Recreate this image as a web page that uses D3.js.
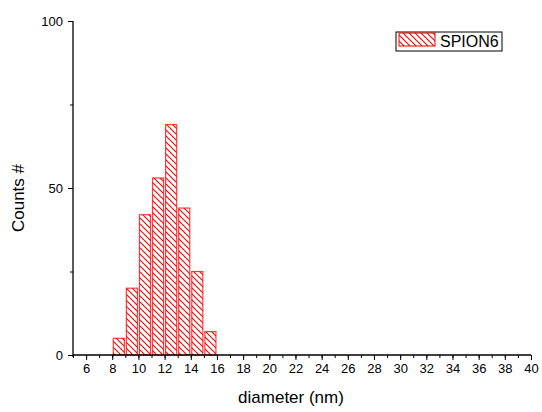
<!DOCTYPE html>
<html>
<head>
<meta charset="utf-8">
<script src="https://cdn.jsdelivr.net/npm/d3@7"></script>
<style>
  body { margin: 0; background: #fff; }
  svg { display: block; font-family: "Liberation Sans", Arial, sans-serif; }
</style>
</head>
<body>
<script>
// histogram bins (nm) and counts
var binStart = [8, 9, 10, 11, 12, 13, 14, 15];
var binEnd   = [9, 10, 11, 12, 13, 14, 15, 16];
var counts   = [5, 20, 42, 53, 69, 44, 25, 7];
var seriesName = "SPION6";
var xTicks = [6, 8, 10, 12, 14, 16, 18, 20, 22, 24, 26, 28, 30, 32, 34, 36, 38, 40];
var yTicks = [0, 50, 100];

var w = 542, h = 412;
var red = "#ff0000";

var svg = d3.select("body").append("svg")
    .attr("width", w)
    .attr("height", h);

// hatch pattern
var defs = svg.append("defs");
var pat = defs.append("pattern")
    .attr("id", "hatch")
    .attr("patternUnits", "userSpaceOnUse")
    .attr("width", 6)
    .attr("height", 6);
pat.append("rect").attr("width", 6).attr("height", 6).attr("fill", "#fff");
pat.append("path")
    .attr("d", "M0,0L6,6M-1,5L1,7M5,-1L7,1")
    .attr("stroke", red)
    .attr("stroke-width", 1.1);

var xScale = d3.scaleLinear().domain([5, 40]).range([73, 531]);
var yScale = d3.scaleLinear().domain([0, 100]).range([355, 21]);

// bars
var data = binStart.map(function(d, i) { return {x0: d, x1: binEnd[i], c: counts[i]}; });
svg.selectAll("rect.bar")
  .data(data)
  .enter()
  .append("rect")
  .attr("class", "bar")
  .attr("x", function(d) { return xScale(d.x0) + 1; })
  .attr("y", function(d) { return yScale(d.c); })
  .attr("width", function(d) { return xScale(d.x1) - xScale(d.x0) - 2; })
  .attr("height", function(d) { return yScale(0) - yScale(d.c); })
  .attr("fill", "url(#hatch)")
  .attr("stroke", red)
  .attr("stroke-opacity", 0.75)
  .attr("stroke-width", 1.2);

// x axis: major ticks labelled, minor every 1
var gX = svg.append("g").attr("transform", "translate(0," + yScale(0) + ")");
gX.call(d3.axisBottom(xScale).tickValues(d3.range(5, 41, 1)).tickSize(3).tickFormat(""))
  .call(function(g) { g.select(".domain").remove(); });
gX.append("g")
  .call(d3.axisBottom(xScale).tickValues(xTicks).tickSize(5).tickPadding(4).tickFormat(d3.format("d")))
  .call(function(g) { g.select(".domain").remove(); });
gX.append("line")
  .attr("x1", xScale(5)).attr("x2", xScale(40))
  .attr("stroke", "#000").attr("stroke-width", 1.3);
gX.selectAll("text").attr("font-size", 13).attr("fill", "#000").attr("font-family", "Liberation Sans, Arial, sans-serif");
gX.selectAll(".tick line").attr("stroke", "#000");

// y axis
var gY = svg.append("g").attr("transform", "translate(" + xScale(5) + ",0)");
gY.call(d3.axisLeft(yScale).tickValues([25, 75]).tickSize(3).tickFormat(""))
  .call(function(g) { g.select(".domain").remove(); });
gY.append("g")
  .call(d3.axisLeft(yScale).tickValues(yTicks).tickSize(5).tickPadding(5).tickFormat(d3.format("d")))
  .call(function(g) { g.select(".domain").remove(); });
gY.append("line")
  .attr("y1", yScale(100)).attr("y2", yScale(0) + 2)
  .attr("stroke", "#000").attr("stroke-width", 1.3);
gY.selectAll("text").attr("font-size", 13).attr("fill", "#000").attr("font-family", "Liberation Sans, Arial, sans-serif");
gY.selectAll(".tick line").attr("stroke", "#000");

// axis titles
svg.append("text")
  .attr("x", 291).attr("y", 403)
  .attr("text-anchor", "middle")
  .attr("font-size", 17)
  .text("diameter (nm)");

svg.append("text")
  .attr("transform", "translate(24,198) rotate(-90)")
  .attr("text-anchor", "middle")
  .attr("font-size", 17)
  .text("Counts #");

// legend
var lg = svg.append("g").attr("transform", "translate(396,32)");
lg.append("rect")
  .attr("width", 106).attr("height", 19)
  .attr("fill", "#fff")
  .attr("stroke", "#000").attr("stroke-width", 1);
lg.append("rect")
  .attr("x", 3).attr("y", 1).attr("width", 36).attr("height", 13)
  .attr("fill", "url(#hatch)")
  .attr("stroke", red).attr("stroke-width", 1);
lg.append("text")
  .attr("x", 44).attr("y", 14.5)
  .attr("font-size", 16)
  .text(seriesName);
</script>
</body>
</html>
